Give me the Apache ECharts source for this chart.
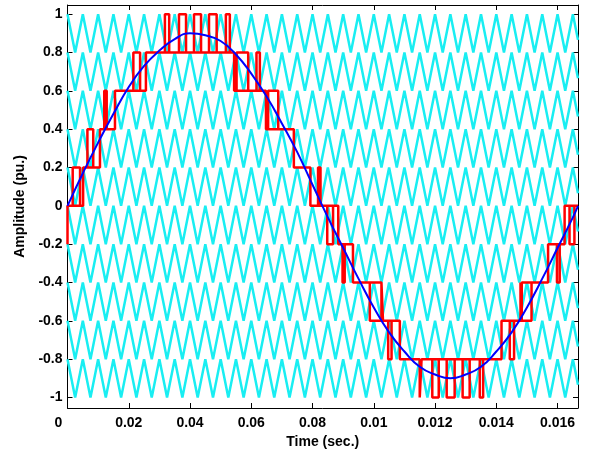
<!DOCTYPE html>
<html>
<head>
<meta charset="utf-8">
<title>Level shifted PWM</title>
<script src="https://cdn.jsdelivr.net/npm/echarts@6/dist/echarts.min.js"></script>
<style>
  html, body { margin: 0; padding: 0; background: #fff; }
  #pwmChart { width: 590px; height: 455px; }
</style>
</head>
<body>
<div id="pwmChart"></div>
<script>
// time is kept in ms, the tick labels are copied as printed on the figure
var tEnd = 16.667;
var xTickValues = [0, 2, 4, 6, 8, 10, 12, 14, 16];
var xTickLabels = ['0', '0.02', '0.04', '0.06', '0.08', '0.01', '0.012', '0.014', '0.016'];
var yTickValues = [-1, -0.8, -0.6, -0.4, -0.2, 0, 0.2, 0.4, 0.6, 0.8, 1];
var yTickLabels = ['-1', '-0.8', '-0.6', '-0.4', '-0.2', '0', '0.2', '0.4', '0.6', '0.8', '1'];

// carriers: one triangle shape, shifted into 10 bands of 0.2
var carrierBases = [-1, -0.8, -0.6, -0.4, -0.2, 0, 0.2, 0.4, 0.6, 0.8];
var carrierHeight = 0.2;
var carrierTimes = [0, 0.25, 0.5, 0.75, 1, 1.25, 1.5, 1.75, 2, 2.25, 2.5, 2.75, 3, 3.25, 3.5, 3.75,
  4, 4.25, 4.5, 4.75, 5, 5.25, 5.5, 5.75, 6, 6.25, 6.5, 6.75, 7, 7.25, 7.5, 7.75,
  8, 8.25, 8.5, 8.75, 9, 9.25, 9.5, 9.75, 10, 10.25, 10.5, 10.75, 11, 11.25, 11.5, 11.75,
  12, 12.25, 12.5, 12.75, 13, 13.25, 13.5, 13.75, 14, 14.25, 14.5, 14.75, 15, 15.25, 15.5, 15.75,
  16, 16.25, 16.5, 16.667];
var carrierShape = [1, 0, 1, 0, 1, 0, 1, 0, 1, 0, 1, 0, 1, 0, 1, 0,
  1, 0, 1, 0, 1, 0, 1, 0, 1, 0, 1, 0, 1, 0, 1, 0,
  1, 0, 1, 0, 1, 0, 1, 0, 1, 0, 1, 0, 1, 0, 1, 0,
  1, 0, 1, 0, 1, 0, 1, 0, 1, 0, 1, 0, 1, 0, 1, 0,
  1, 0, 1, 0.33];

// reference (blue)
var refTimes = [0, 0.5, 1, 1.5, 2, 2.5, 3, 3.5, 4, 4.5, 5, 5.5, 6, 6.5, 7, 7.5, 8, 8.5,
  9, 9.5, 10, 10.5, 11, 11.5, 12, 12.5, 13, 13.5, 14, 14.5, 15, 15.5, 16, 16.5, 16.667];
var refValues = [0, 0.17, 0.33, 0.48, 0.62, 0.73, 0.81, 0.87, 0.9, 0.89, 0.86, 0.79, 0.69, 0.57, 0.43, 0.28, 0.11, -0.06,
  -0.22, -0.38, -0.53, -0.66, -0.76, -0.84, -0.88, -0.9, -0.88, -0.84, -0.76, -0.66, -0.53, -0.38, -0.22, -0.06, 0];

// output (red): switching instants and the level after each switch
var outStart = -0.2;
var outTimes = [0, 0.17, 0.41, 0.51, 0.65, 0.84, 1.06, 1.2, 1.28, 1.55, 2.15, 2.37, 2.56,
  3.18, 3.32, 3.64, 3.87, 4.13, 4.36, 4.62, 4.87, 5.17, 5.3, 5.44, 5.52, 5.9, 6.17, 6.28,
  6.48, 6.55, 6.88, 7.39, 7.93, 8.18, 8.26, 8.48, 8.67, 8.84, 8.98, 9.05, 9.32, 9.87,
  10.25, 10.3, 10.47, 10.58, 10.85, 11.5, 11.56, 11.91, 12.12, 12.38, 12.64, 12.9, 13.13,
  13.46, 13.57, 14.17, 14.44, 14.58, 14.79, 14.83, 15.15, 15.69, 15.98, 16.07, 16.23, 16.39, 16.55];
var outLevels = [0, 0.2, 0, 0.2, 0.4, 0.2, 0.4, 0.6, 0.4, 0.6, 0.8, 0.6, 0.8,
  1, 0.8, 1, 0.8, 1, 0.8, 1, 0.8, 1, 0.8, 0.6, 0.8, 0.6, 0.8, 0.6,
  0.4, 0.6, 0.4, 0.2, 0, 0.2, 0, -0.2, 0, -0.2, -0.4, -0.2, -0.4, -0.6,
  -0.4, -0.6, -0.8, -0.6, -0.8, -1, -0.8, -1, -0.8, -1, -0.8, -1, -0.8,
  -1, -0.8, -0.6, -0.8, -0.6, -0.4, -0.6, -0.4, -0.2, -0.4, -0.2, 0, -0.2, 0];

var pwmChart = '';
var labelFont = 'Liberation Sans, Arial, Helvetica, sans-serif';

window.onload = function () {
  pwmChart = echarts.init(document.getElementById('pwmChart'), null, { renderer: 'canvas' });
  pwmChart.setOption(buildOption());
};

// triangle carrier for one band
function carrierData(base) {
  var pts = [];
  for (var i = 0; i < carrierTimes.length; i++) {
    pts.push([carrierTimes[i], base + carrierShape[i] * carrierHeight]);
  }
  return pts;
}

// stairs for the output; short pulses away from zero get their base line drawn under them too
function outputData() {
  var pts = [[0, outStart]];
  var prev = outStart;
  for (var i = 0; i < outTimes.length; i++) {
    pts.push([outTimes[i], prev]);
    pts.push([outTimes[i], outLevels[i]]);
    var before = i > 0 ? outLevels[i - 1] : outStart;
    if (i > 0 && i < outTimes.length - 1 && before === outLevels[i + 1] &&
        Math.abs(outLevels[i]) > Math.abs(before)) {
      // close the pulse: go on to the next switch, then back along the base
      pts.push([outTimes[i + 1], outLevels[i]]);
      pts.push([outTimes[i + 1], before]);
      pts.push([outTimes[i], before]);
      pts.push([outTimes[i], outLevels[i]]);
    }
    prev = outLevels[i];
  }
  pts.push([tEnd, prev]);
  return pts;
}

function refData() {
  var pts = [];
  for (var i = 0; i < refTimes.length; i++) {
    pts.push([refTimes[i], refValues[i]]);
  }
  return pts;
}

function xLabel(value) {
  var idx = xTickValues.indexOf(Math.round(value * 1000) / 1000);
  if (idx < 0) return '';
  if (idx === 0) return '{z|' + xTickLabels[0] + '}';
  return xTickLabels[idx];
}

function yLabel(value) {
  var idx = yTickValues.indexOf(Math.round(value * 10) / 10);
  return idx < 0 ? '' : yTickLabels[idx];
}

function buildOption() {
  var lineStyleAxis = { color: '#000', width: 1 };
  var series = [];
  for (var i = 0; i < carrierBases.length; i++) {
    series.push({
      type: 'line',
      data: carrierData(carrierBases[i]),
      showSymbol: false,
      symbol: 'none',
      lineStyle: { color: '#19eef2', width: 2.5 },
      silent: true,
      z: 2
    });
  }
  series.push({
    type: 'line',
    data: outputData(),
    showSymbol: false,
    symbol: 'none',
    lineStyle: { color: '#ff0000', width: 2.5 },
    silent: true,
    z: 3
  });
  series.push({
    type: 'line',
    data: refData(),
    smooth: true,
    showSymbol: false,
    symbol: 'none',
    lineStyle: { color: '#0000ff', width: 2 },
    silent: true,
    z: 4
  });

  return {
    animation: false,
    backgroundColor: '#fff',
    grid: { left: 67.5, right: 12, top: 5, bottom: 47 },
    xAxis: [{
      type: 'value',
      min: 0,
      max: tEnd,
      name: 'Time (sec.)',
      nameLocation: 'middle',
      nameGap: 27,
      nameTextStyle: { color: '#000', fontWeight: 'bold', fontSize: 14, fontFamily: labelFont },
      axisLine: { show: true, onZero: false, lineStyle: lineStyleAxis },
      axisTick: { show: true, inside: true, length: 5, customValues: xTickValues, lineStyle: lineStyleAxis },
      axisLabel: {
        customValues: xTickValues,
        formatter: xLabel,
        margin: 8,
        color: '#000',
        fontWeight: 'bold',
        fontSize: 14,
        fontFamily: labelFont,
        rich: { z: { padding: [0, 18, 0, 0], color: '#000', fontWeight: 'bold', fontSize: 14, fontFamily: labelFont } }
      },
      splitLine: { show: false }
    }, {
      type: 'value',
      position: 'top',
      min: 0,
      max: tEnd,
      axisLine: { show: true, onZero: false, lineStyle: lineStyleAxis },
      axisTick: { show: true, inside: true, length: 5, customValues: xTickValues, lineStyle: lineStyleAxis },
      axisLabel: { show: false },
      splitLine: { show: false }
    }],
    yAxis: [{
      type: 'value',
      min: -1.055,
      max: 1.048,
      name: 'Amplitude (pu.)',
      nameLocation: 'middle',
      nameGap: 38,
      nameTextStyle: { color: '#000', fontWeight: 'bold', fontSize: 14, fontFamily: labelFont },
      axisLine: { show: true, onZero: false, lineStyle: lineStyleAxis },
      axisTick: { show: true, inside: true, length: 5, customValues: yTickValues, lineStyle: lineStyleAxis },
      axisLabel: {
        customValues: yTickValues,
        formatter: yLabel,
        margin: 5,
        color: '#000',
        fontWeight: 'bold',
        fontSize: 14,
        fontFamily: labelFont
      },
      splitLine: { show: false }
    }, {
      type: 'value',
      position: 'right',
      min: -1.055,
      max: 1.048,
      axisLine: { show: true, onZero: false, lineStyle: lineStyleAxis },
      axisTick: { show: true, inside: true, length: 5, customValues: yTickValues, lineStyle: lineStyleAxis },
      axisLabel: { show: false },
      splitLine: { show: false }
    }],
    series: series
  };
}
</script>
</body>
</html>
